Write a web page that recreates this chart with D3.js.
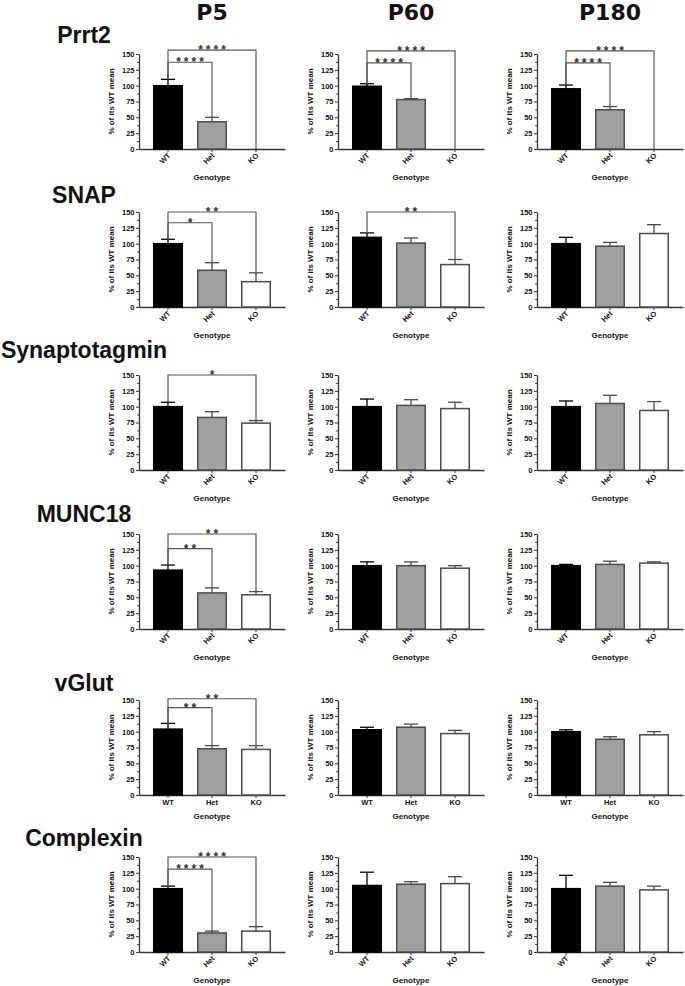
<!DOCTYPE html>
<html><head><meta charset="utf-8">
<script src="https://cdn.jsdelivr.net/npm/d3@7"></script>
<style>
body{margin:0;background:#fff}
text{font-family:"Liberation Sans",Arial,Helvetica,sans-serif;font-weight:bold;fill:#111}
</style></head><body>
<svg id="c" width="685" height="986"></svg>
<script>
const genotypes = ["WT", "Het", "KO"];
const ages = ["P5", "P60", "P180"];
const proteins = ["Prrt2", "SNAP", "Synaptotagmin", "MUNC18", "vGlut", "Complexin"];
const yTicks = [0, 25, 50, 75, 100, 125, 150];
const yMinorTicks = [12.5, 37.5, 62.5, 87.5, 112.5, 137.5];
const yLabel = "% of its WT mean";
const xLabel = "Genotype";

// means [P5, P60, P180] x [WT, Het, KO]
const prrt2Mean = [[100, 43, 0], [99, 78, 0], [95, 62, 0]];
const prrt2Sem  = [[10, 7, 0], [4, 1.5, 0], [6, 5, 0]];
const snapMean  = [[100, 58, 40], [110, 101, 67], [100, 96, 116]];
const snapSem   = [[7, 12, 14], [7, 8, 8], [10, 6, 14]];
const sytMean   = [[100, 83, 74], [100, 102, 97], [100, 105, 94]];
const sytSem    = [[7, 9, 4], [12, 9, 10], [9, 13, 14]];
const munc18Mean = [[93, 57, 54], [100, 100, 96], [100, 102, 104]];
const munc18Sem  = [[8, 8, 5], [6, 6, 4], [2, 5, 2]];
const vglutMean = [[104, 73, 72], [103, 107, 97], [100, 88, 95]];
const vglutSem  = [[9, 5, 6], [4, 5, 5], [3, 4, 5]];
const cplxMean  = [[100, 30, 33], [105, 107, 108], [100, 104, 98]];
const cplxSem   = [[4, 3, 7], [21, 4, 11], [21, 6, 6]];

// significance brackets: [from, to, label, bracket level in % units]
const prrt2Sig = [[[0, 1, "****", 137], [0, 2, "****", 156]], [[0, 1, "****", 136], [0, 2, "****", 155]], [[0, 1, "****", 136], [0, 2, "****", 155]]];
const snapSig  = [[[0, 1, "*", 133], [0, 2, "**", 150]], [[0, 2, "**", 150]], []];
const sytSig   = [[[0, 2, "*", 150]], [], []];
const munc18Sig = [[[0, 1, "**", 127], [0, 2, "**", 150]], [], []];
const vglutSig = [[[0, 1, "**", 138], [0, 2, "**", 152]], [], []];
const cplxSig  = [[[0, 1, "****", 131], [0, 2, "****", 150]], [], []];

const rowMeans = [prrt2Mean, snapMean, sytMean, munc18Mean, vglutMean, cplxMean];
const rowSems = [prrt2Sem, snapSem, sytSem, munc18Sem, vglutSem, cplxSem];
const rowSigs = [prrt2Sig, snapSig, sytSig, munc18Sig, vglutSig, cplxSig];
const rowRotated = [true, true, true, true, false, true];

// layout
const colX = [139, 338, 537];
const rowTop = [54, 212, 375, 534, 700, 857];
const titleBase = [43, 203, 358, 522, 691, 846];
const PW = 146, PH = 95;
const fills = {WT: "#000", Het: "#a0a0a0", KO: "#fff"};
const strokes = {WT: "#000", Het: "#4a4a4a", KO: "#4a4a4a"};

const svg = d3.select("#c");

ages.forEach((a, c) => {
  svg.append("text").attr("x", colX[c] + PW / 2).attr("y", 20)
    .attr("text-anchor", "middle")
    .style("font-family", "'DejaVu Sans', Verdana, sans-serif")
    .style("font-size", "22px").text(a);
});

proteins.forEach((p, r) => {
  svg.append("text").attr("x", 84).attr("y", titleBase[r])
    .attr("text-anchor", "middle").style("font-size", "23px").text(p);

  ages.forEach((a, c) => {
    const g = svg.append("g").attr("transform", `translate(${colX[c]},${rowTop[r]})`);
    const x = d3.scaleBand().domain(genotypes).range([0, PW]).paddingInner(0.318).paddingOuter(0.318);
    const y = d3.scaleLinear().domain([0, 150]).range([PH, 0]);
    const means = rowMeans[r][c], sems = rowSems[r][c];

    // y axis
    const ya = g.append("g").call(d3.axisLeft(y).tickValues(yTicks).tickSize(3).tickSizeOuter(0).tickPadding(1.5));
    ya.selectAll("text").style("font-size", "7.5px").style("font-family", "Liberation Sans, Arial").style("font-weight", "bold").style("fill", "#111");
    const ym = g.append("g").call(d3.axisLeft(y).tickValues(yMinorTicks).tickSize(1.8).tickFormat(""));
    ym.select(".domain").remove();
    g.selectAll(".domain").attr("stroke", "#333").attr("stroke-width", 1.3);
    g.selectAll(".tick line").attr("stroke", "#333").attr("stroke-width", 1);

    // x axis
    const xa = g.append("g").attr("transform", `translate(0,${PH})`)
      .call(d3.axisBottom(x).tickSize(3).tickSizeOuter(0));
    xa.select(".domain").attr("stroke", "#333").attr("stroke-width", 1.3);
    xa.selectAll(".tick line").attr("stroke", "#333");
    const xt = xa.selectAll("text").style("font-size", "7.5px").style("font-weight", "bold").style("font-family", "Liberation Sans, Arial").style("fill", "#111");
    if (rowRotated[r]) {
      xt.attr("text-anchor", "end").attr("dy", null).attr("y", 0)
        .attr("transform", "translate(3,7) rotate(-45)");
    } else {
      xt.attr("y", 5).attr("dy", "0.71em");
    }
    g.append("text").attr("x", PW / 2).attr("y", PH + (rowRotated[r] ? 31 : 24))
      .attr("text-anchor", "middle").style("font-size", "8px").text(xLabel);

    // y label
    g.append("text").attr("transform", `translate(-25,${PH / 2}) rotate(-90)`)
      .attr("text-anchor", "middle").style("font-size", "8px").text(yLabel);

    // bars
    genotypes.forEach((gt, i) => {
      const m = means[i], s = sems[i];
      if (m > 0) {
        g.append("rect").attr("x", x(gt) + 0.75).attr("y", y(m))
          .attr("width", x.bandwidth() - 1.5).attr("height", y(0) - y(m))
          .attr("fill", fills[gt]).attr("stroke", strokes[gt]).attr("stroke-width", 1.5);
      }
      if (s > 0) {
        const cx = x(gt) + x.bandwidth() / 2;
        g.append("line").attr("x1", cx).attr("x2", cx).attr("y1", y(m)).attr("y2", y(m + s))
          .attr("stroke", strokes[gt]).attr("stroke-width", 1.3);
        g.append("line").attr("x1", cx - 7).attr("x2", cx + 7).attr("y1", y(m + s)).attr("y2", y(m + s))
          .attr("stroke", strokes[gt]).attr("stroke-width", 1.3);
      }
    });

    // significance brackets
    rowSigs[r][c].forEach(([i, j, lab, lev]) => {
      const x1 = x(genotypes[i]) + x.bandwidth() / 2, x2 = x(genotypes[j]) + x.bandwidth() / 2;
      const yl = y(lev);
      const t1 = y(means[i] + sems[i]), t2 = y(means[j] + sems[j]);
      g.append("path").attr("d", `M${x1},${t1}V${yl}H${x2}V${t2}`)
        .attr("fill", "none").attr("stroke", "#555").attr("stroke-width", 1.2);
      g.append("text").attr("x", (x1 + x2) / 2 + 1.5).attr("y", yl + 4)
        .attr("text-anchor", "middle").style("font-size", "12px")
        .style("letter-spacing", "3px").style("fill", "#333").text(lab);
    });
  });
});
</script></body></html>
